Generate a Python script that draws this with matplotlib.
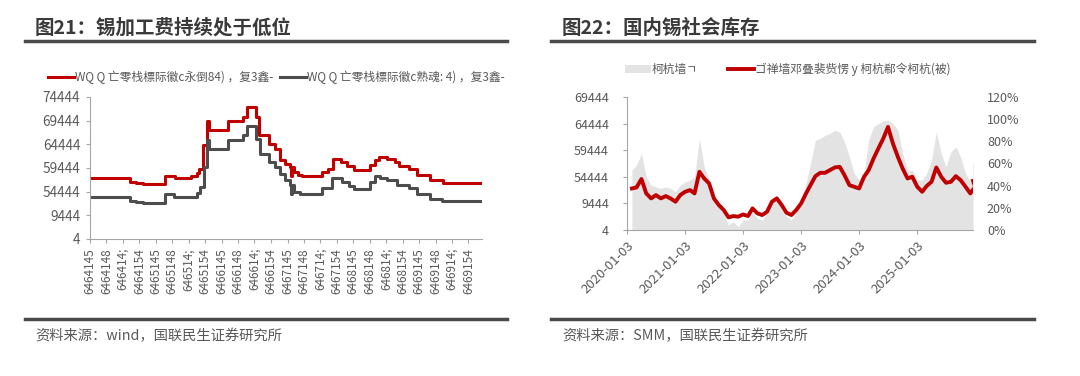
import matplotlib

matplotlib.use("Agg")
import matplotlib.pyplot as plt
import numpy as np
import pandas as pd

plt.rcParams["font.family"] = ["Noto Sans CJK SC", "DejaVu Sans"]

# ---- left chart: processing fee (step series, change dates) ----
red_dates = ["2020-01-01", "2020-08-10", "2020-09-15", "2020-10-22", "2021-02-20", "2021-04-16",
             "2021-07-12", "2021-08-15", "2021-08-30", "2021-09-21", "2021-10-13", "2021-10-20",
             "2022-02-04", "2022-04-28", "2022-05-22", "2022-07-10", "2022-07-26", "2022-09-22",
             "2022-10-24", "2022-11-21", "2022-12-18", "2023-01-16", "2023-01-21", "2023-01-26",
             "2023-02-04", "2023-03-02", "2023-03-20", "2023-07-09", "2023-08-16", "2023-09-13",
             "2023-10-24", "2023-11-27", "2024-01-03", "2024-04-03", "2024-05-01", "2024-05-20",
             "2024-07-05", "2024-08-21", "2024-09-09", "2024-11-04", "2024-12-19", "2025-03-03",
             "2025-05-12", "2025-12-15"]
red_fee = [12900, 12050, 11800, 11550, 13380, 12950,
           13300, 14000, 14850, 19800, 24900, 23000,
           24850, 25800, 27900, 25800, 21900, 20150,
           19100, 16600, 15800, 15200, 13400, 15200,
           14150, 13600, 13300, 14150, 14850, 16850,
           16250, 15350, 14500, 15550, 16600, 17300,
           16950, 16250, 15350, 14850, 13450, 12550,
           11900, 11900]

gray_dates = ["2020-01-01", "2020-08-10", "2020-09-15", "2020-10-22", "2021-02-20", "2021-04-10",
              "2021-08-15", "2021-09-03", "2021-09-26", "2021-10-13", "2021-10-20", "2022-02-04",
              "2022-04-28", "2022-05-22", "2022-07-10", "2022-08-01", "2022-09-18", "2022-10-24",
              "2022-11-21", "2022-12-18", "2023-01-16", "2023-01-21", "2023-01-26", "2023-02-04",
              "2023-03-11", "2023-07-09", "2023-09-04", "2023-10-28", "2023-12-06", "2024-01-03",
              "2024-04-03", "2024-05-01", "2024-05-28", "2024-07-05", "2024-09-01", "2024-11-04",
              "2024-12-19", "2025-03-03", "2025-05-07", "2025-12-15"]
gray_fee = [8870, 8030, 7800, 7600, 9440, 8870,
            9720, 10990, 15200, 21000, 18950, 20850,
            21900, 23800, 21200, 18030, 16270, 15200,
            13800, 12540, 11340, 9440, 11340, 9930,
            9440, 10850, 12890, 12040, 11130, 10630,
            12040, 13310, 12960, 12390, 11340, 10850,
            9440, 8520, 8030, 8030]

left_yticks = [0, 5000, 10000, 15000, 20000, 25000, 30000]
left_yticklabels = ["4", "9444", "54444", "59444", "64444", "69444", "74444"]
left_xticks = pd.date_range("2020-01-01", "2025-10-01", freq="QS")
left_xticklabels = ["6464145", "6464148", "646414;", "6464154",
                    "6465145", "6465148", "646514;", "6465154",
                    "6466145", "6466148", "646614;", "6466154",
                    "6467145", "6467148", "646714;", "6467154",
                    "6468145", "6468148", "646814;", "6468154",
                    "6469145", "6469148", "646914;", "6469154"]
left_legend = ["WQ Q 亡零栈標际徽c永倒84) ，复3鑫-", "WQ Q 亡零栈標际徽c熟魂: 4) ，复3鑫-"]

# ---- right chart: social inventory (monthly readings) ----
inv_dates = list(pd.date_range("2020-01-03", periods=72, freq="MS") + pd.Timedelta(days=2)) + [pd.Timestamp("2025-12-20")]
inv_tons = [11250, 12190, 14375, 10000, 8440, 8125, 7800, 8125, 7800, 7200, 8440, 9060,
            9375, 10000, 17190, 11875, 9375, 6560, 4375, 3125, 940, 1560, 625, 1875,
            1875, 3440, 2190, 1875, 3125, 5625, 6560, 5000, 2500, 1875, 3125, 5625,
            8750, 12500, 16875, 17190, 17810, 18125, 18750, 18440, 16560, 13750, 10625, 9375,
            10625, 16875, 19375, 20000, 20500, 20625, 20000, 18750, 14375, 11250, 11250, 9375,
            9375, 10625, 13125, 18440, 14375, 11875, 14690, 15625, 13750, 10625, 9060, 10310,
            12810]
inv_pct = [37.5, 38.4, 46.0, 33.0, 28.5, 31.5, 28.5, 30.6, 28.5, 25.5, 31.5, 34.5,
           36.0, 33.0, 52.5, 46.5, 42.0, 28.5, 22.5, 18.0, 11.4, 12.6, 12.0, 14.0,
           12.6, 19.5, 15.0, 13.5, 16.5, 25.5, 28.5, 22.5, 15.6, 13.5, 18.0, 24.0,
           33.0, 40.5, 48.6, 51.6, 51.6, 54.0, 56.4, 57.0, 49.5, 40.5, 39.0, 37.5,
           48.0, 54.0, 64.5, 73.5, 82.5, 93.0, 78.0, 66.0, 55.5, 46.5, 48.0, 39.0,
           34.5, 39.6, 43.5, 56.4, 48.0, 42.6, 43.5, 48.6, 45.0, 39.0, 33.0, 39.0,
           44.4]
right_yticks = [0, 5000, 10000, 15000, 20000, 25000]
right_yticklabels = ["4", "9444", "54444", "59444", "64444", "69444"]
right_xticks = pd.to_datetime(["2020-01-03", "2021-01-03", "2022-01-03", "2023-01-03", "2024-01-03", "2025-01-03"])
right_legend = ["柯杭墙ㄱ", "ゴ禅墙邓叠裴赀愣 y 柯杭郗令柯杭(被)"]

RED = "#c00000"
DGRAY = "#4d4d4d"
TXT = "#595959"
SPINE = "#a6a6a6"

fig = plt.figure(figsize=(10.8, 3.76), dpi=100)
W, H = 1080, 376


def px(x0, y0, x1, y1):
    return [x0 / W, 1 - y1 / H, (x1 - x0) / W, (y1 - y0) / H]


def style(ax, pad=4):
    for s in ["top", "right"]:
        ax.spines[s].set_visible(False)
    for s in ["left", "bottom"]:
        ax.spines[s].set_color(SPINE)
    ax.tick_params(colors=SPINE, labelcolor=TXT, length=3)
    ax.tick_params(axis="y", pad=pad)


# titles, rules, sources
fig.text(35 / W, 1 - 28 / H, "图21：锡加工费持续处于低位", fontsize=14, fontweight="bold", color="#3a3a3a", va="center")
fig.text(562 / W, 1 - 28 / H, "图22：国内锡社会库存", fontsize=14, fontweight="bold", color="#3a3a3a", va="center")
for x0, x1 in [(25, 507), (551, 1034)]:
    for yy in [41, 319]:
        fig.add_artist(plt.Line2D([x0 / W, x1 / W], [1 - yy / H] * 2, color="#4a4a4a", lw=2.5))
fig.text(35 / W, 1 - 336 / H, "资料来源：wind，国联民生证券研究所", fontsize=10.3, color=TXT, va="center")
fig.text(562 / W, 1 - 336 / H, "资料来源：SMM，国联民生证券研究所", fontsize=10.3, color=TXT, va="center")

# left chart
ax1 = fig.add_axes(px(90, 97, 482, 239))
ax1.plot(pd.to_datetime(red_dates), red_fee, drawstyle="steps-post", color=RED, lw=2.2, label=left_legend[0])
ax1.plot(pd.to_datetime(gray_dates), gray_fee, drawstyle="steps-post", color=DGRAY, lw=2.2, label=left_legend[1])
ax1.set_ylim(0, 30000)
ax1.set_xlim(pd.Timestamp("2020-01-01"), pd.Timestamp("2025-12-15"))
ax1.set_yticks(left_yticks)
ax1.set_yticklabels(left_yticklabels, fontsize=9.8)
ax1.set_xticks(left_xticks)
ax1.set_xticklabels(left_xticklabels, rotation=90, fontsize=8.5)
style(ax1, pad=4)
ax1.legend(loc="lower left", bbox_to_anchor=(-0.12, 1.06), ncol=2, frameon=False, fontsize=8.5,
           handlelength=2.2, handletextpad=0.1, columnspacing=0.6, labelcolor=TXT, borderaxespad=0)

# right chart
ax2 = fig.add_axes(px(627, 97, 973, 230))
ax3 = ax2.twinx()
d = pd.to_datetime(inv_dates)
ax2.fill_between(d, inv_tons, 0, color="#e3e3e3", lw=0, label=right_legend[0])
ax3.plot(d, inv_pct, color=RED, lw=2.8, label=right_legend[1])
ax2.set_ylim(0, 25000)
ax3.set_ylim(0, 120)
ax2.set_xlim(pd.Timestamp("2020-01-03"), pd.Timestamp("2025-12-20"))
ax2.set_yticks(right_yticks)
ax2.set_yticklabels(right_yticklabels, fontsize=9)
ax3.set_yticks(np.arange(0, 121, 20))
ax3.set_yticklabels([f"{v}%" for v in range(0, 121, 20)], fontsize=9)
ax2.set_xticks(right_xticks)
ax2.set_xticklabels([t.strftime("%Y-%m-%d") for t in right_xticks], rotation=45, ha="right",
                    rotation_mode="anchor", fontsize=9.5)
style(ax2, pad=10)
for s in ax3.spines.values():
    s.set_visible(False)
ax3.tick_params(axis="y", length=0, labelcolor=TXT, pad=10)
h1, l1 = ax2.get_legend_handles_labels()
h2, l2 = ax3.get_legend_handles_labels()
ax2.legend(h1 + h2, l1 + l2, loc="lower left", bbox_to_anchor=(-0.02, 1.12), ncol=2, frameon=False,
           fontsize=8.5, handlelength=2.2, handletextpad=0.1, columnspacing=2.5, labelcolor=TXT,
           borderaxespad=0)

fig.savefig("out.png", dpi=100)
